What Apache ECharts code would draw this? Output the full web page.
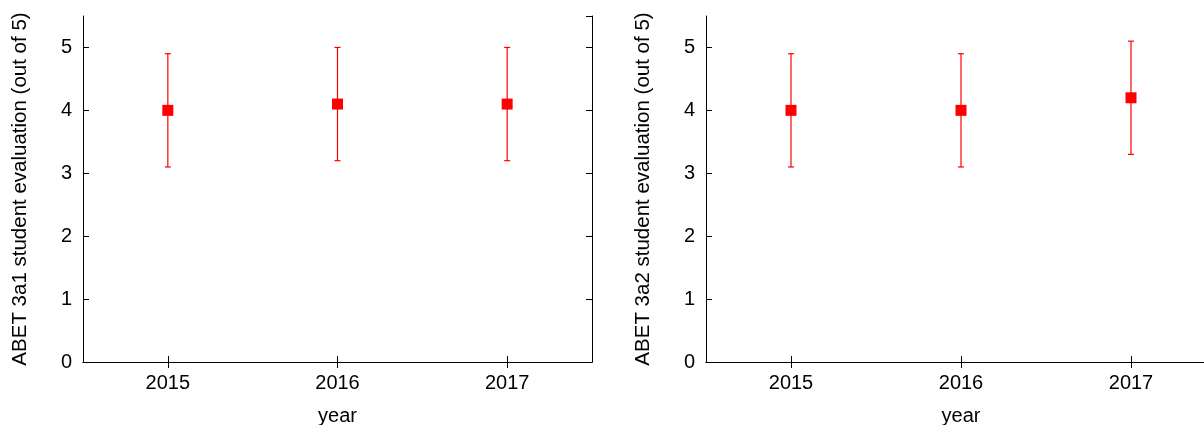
<!DOCTYPE html>
<html><head><meta charset="utf-8">
<script src="https://cdn.jsdelivr.net/npm/echarts@6/dist/echarts.min.js"></script>
<style>html,body{margin:0;padding:0;background:#fff;overflow:hidden}#c{width:1204px;height:425px}</style>
</head><body><div id="c"></div>
<script>
const years = ['2015', '2016', '2017'];
const mean3a1 = [4.0, 4.1, 4.1];
const low3a1  = [3.1, 3.2, 3.2];
const high3a1 = [4.9, 5.0, 5.0];
const mean3a2 = [4.0, 4.0, 4.2];
const low3a2  = [3.1, 3.1, 3.3];
const high3a2 = [4.9, 4.9, 5.1];
const yTitles = ['ABET 3a1 student evaluation (out of 5)', 'ABET 3a2 student evaluation (out of 5)'];
const xTitle = 'year';

const FONT = 'Liberation Sans';
const chart = echarts.init(document.getElementById('c'), null, {renderer: 'canvas'});

const grids = [
  {left: 83, top: 16, width: 509, height: 346, outerBoundsMode: 'none', containLabel: false},
  {left: 706, top: 16, width: 510, height: 346, outerBoundsMode: 'none', containLabel: false}
];
const lineStyle = {color: '#000', width: 1};
const xAxes = [], yAxes = [];
for (let g = 0; g < 2; g++) {
  xAxes.push({
    gridIndex: g, type: 'category', data: years, position: 'bottom',
    boundaryGap: true,
    name: xTitle, nameLocation: 'middle', nameGap: 44,
    nameTextStyle: {fontFamily: FONT, fontSize: 20, color: '#000'},
    axisLine: {show: true, lineStyle},
    axisTick: {show: true, inside: true, length: 6, alignWithLabel: true, lineStyle},
    axisLabel: {fontFamily: FONT, fontSize: 20, color: '#000', margin: 11},
    splitLine: {show: false}
  });
  xAxes.push({
    gridIndex: g, type: 'category', data: years, position: 'top',
    boundaryGap: true,
    axisLine: {show: true, lineStyle},
    axisTick: {show: true, inside: true, length: 6, alignWithLabel: true, lineStyle},
    axisLabel: {show: false},
    splitLine: {show: false}
  });
  yAxes.push({
    gridIndex: g, type: 'value', min: 0, max: 5.5, interval: 1, position: 'left',
    name: yTitles[g], nameLocation: 'middle', nameGap: 52, nameRotate: 90,
    nameTextStyle: {fontFamily: FONT, fontSize: 20.5, color: '#000'},
    axisLine: {show: true, lineStyle},
    axisTick: {show: true, inside: true, length: 6, lineStyle},
    axisLabel: {fontFamily: FONT, fontSize: 20, color: '#000', margin: 11, showMaxLabel: false},
    splitLine: {show: false}
  });
  yAxes.push({
    gridIndex: g, type: 'value', min: 0, max: 5.5, interval: 1, position: 'right',
    axisLine: {show: true, lineStyle},
    axisTick: {show: true, inside: true, length: 6, lineStyle},
    axisLabel: {show: false},
    splitLine: {show: false}
  });
}

function errSeries(g, lows, highs) {
  return {
    type: 'custom', xAxisIndex: g * 2, yAxisIndex: g * 2,
    data: years.map((y, i) => [i, lows[i], highs[i]]),
    renderItem: function (params, api) {
      const lo = api.coord([api.value(0), api.value(1)]);
      const hi = api.coord([api.value(0), api.value(2)]);
      const x = lo[0];
      const hw = 3;
      const st = {stroke: '#ff0000', lineWidth: 1.2};
      return {type: 'group', children: [
        {type: 'line', shape: {x1: x, y1: lo[1], x2: x, y2: hi[1]}, style: st},
        {type: 'line', shape: {x1: x - hw, y1: lo[1], x2: x + hw, y2: lo[1]}, style: st},
        {type: 'line', shape: {x1: x - hw, y1: hi[1], x2: x + hw, y2: hi[1]}, style: st}
      ]};
    },
    z: 2
  };
}
function meanSeries(g, means) {
  return {
    type: 'scatter', xAxisIndex: g * 2, yAxisIndex: g * 2,
    data: means.map((v, i) => [i, v]),
    symbol: 'rect', symbolSize: 11,
    itemStyle: {color: '#ff0000', opacity: 1},
    z: 3
  };
}

chart.setOption({
  animation: false,
  backgroundColor: '#fff',
  grid: grids,
  xAxis: xAxes,
  yAxis: yAxes,
  series: [
    errSeries(0, low3a1, high3a1), meanSeries(0, mean3a1),
    errSeries(1, low3a2, high3a2), meanSeries(1, mean3a2)
  ]
});
</script></body></html>
